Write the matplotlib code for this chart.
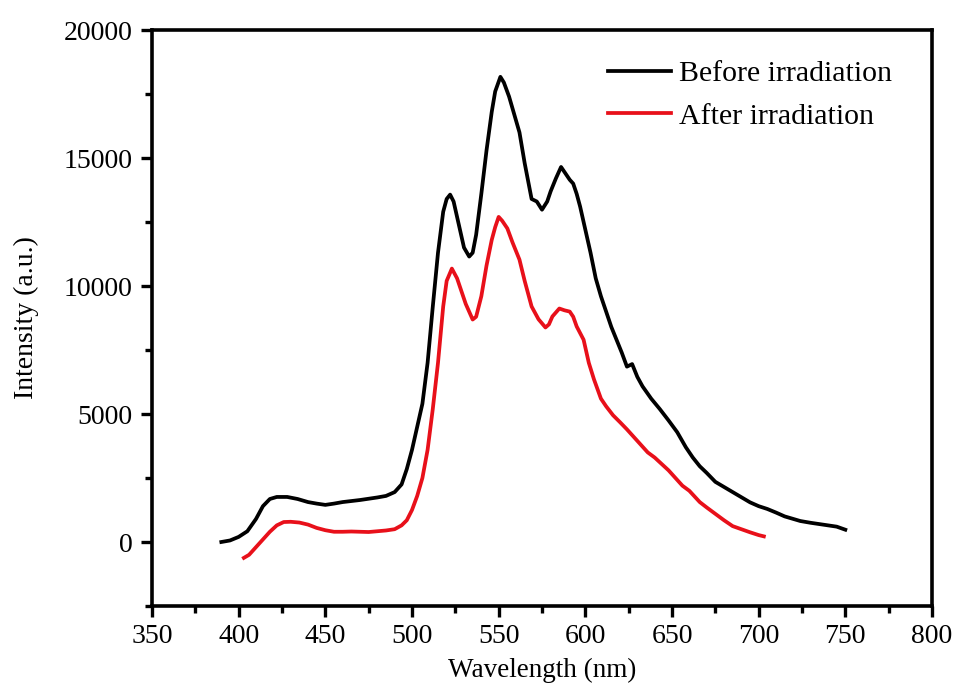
import matplotlib
matplotlib.use("Agg")
import matplotlib.pyplot as plt
from matplotlib.ticker import MultipleLocator

plt.rcParams['font.family'] = ['Liberation Serif', 'DejaVu Serif']

before_x = [390, 395, 400, 405, 410, 414, 418, 422, 428, 434, 440, 445, 450, 455, 460, 465,
            470, 475, 480, 485, 490, 494, 497, 500, 503, 506, 509, 512, 515, 518, 520, 522,
            524, 526, 528, 530, 533, 535, 537, 540, 543, 546, 548, 551, 553, 556, 559, 562,
            565, 569, 572, 575, 578, 580, 583, 586, 588, 591, 593, 595, 597, 600, 603, 606,
            609, 612, 615, 618, 621, 624, 627, 630, 633, 638, 643, 648, 653, 658, 662, 666,
            670, 675, 680, 685, 690, 695, 700, 705, 710, 715, 720, 724, 730, 735, 740, 745, 750]
before_y = [0, 60, 200, 420, 900, 1400, 1680, 1760, 1760, 1680, 1560, 1500, 1450, 1500, 1560, 1600,
            1640, 1690, 1740, 1800, 1950, 2250, 2850, 3600, 4500, 5400, 7000, 9200, 11300, 12900, 13400, 13570,
            13300, 12700, 12100, 11500, 11150, 11300, 12000, 13600, 15300, 16800, 17600, 18170, 17950, 17400, 16700, 16000,
            14800, 13400, 13300, 12980, 13300, 13700, 14200, 14650, 14450, 14150, 14000, 13600, 13100, 12200, 11300, 10300,
            9600, 9000, 8400, 7900, 7400, 6850, 6950, 6450, 6080, 5600, 5190, 4750, 4290, 3700, 3300, 2960,
            2700, 2350, 2150, 1950, 1750, 1550, 1400, 1290, 1150, 1000, 900, 820, 750, 700, 650, 600, 480]

after_x = [403, 406, 410, 414, 418, 422, 426, 430, 435, 440, 445, 450, 455, 460, 465, 470,
           475, 480, 485, 490, 494, 497, 500, 503, 506, 509, 512, 515, 518, 520, 523, 526,
           528, 531, 535, 537, 540, 543, 546, 548, 550, 552, 555, 558, 562, 565, 569, 573,
           577, 579, 581, 585, 588, 591, 593, 595, 599, 602, 605, 609, 612, 616, 620, 624,
           628, 632, 636, 640, 644, 648, 652, 656, 660, 666, 670, 675, 680, 685, 690, 695, 700, 703]
after_y = [-620, -500, -200, 100, 400, 650, 780, 790, 760, 680, 550, 460, 400, 400, 410, 400,
           390, 420, 450, 500, 650, 850, 1250, 1800, 2500, 3600, 5200, 7000, 9200, 10200, 10680, 10300,
           9900, 9300, 8690, 8800, 9600, 10800, 11800, 12300, 12700, 12550, 12250, 11700, 11030, 10200, 9200, 8700,
           8380, 8500, 8810, 9120, 9050, 9000, 8800, 8420, 7900, 7000, 6350, 5600, 5300, 4950, 4680, 4400,
           4100, 3800, 3500, 3300, 3050, 2800, 2500, 2200, 2000, 1560, 1350, 1100, 850, 620, 500, 380, 270, 220]

labels = ['Before irradiation', 'After irradiation']
x_ticks = [350, 400, 450, 500, 550, 600, 650, 700, 750, 800]
y_ticks = [0, 5000, 10000, 15000, 20000]

fig = plt.figure(figsize=(9.58, 6.91), dpi=100)
ax = fig.add_axes([152/958, 85/691, 780/958, 576/691])

ax.plot(before_x, before_y, color='black', lw=2.7, label=labels[0])
ax.plot(after_x, after_y, color='#e8101a', lw=2.7, label=labels[1])

ax.set_xlim(350, 800)
ax.set_ylim(-2500, 20000)
ax.set_xticks(x_ticks)
ax.set_yticks(y_ticks)
ax.xaxis.set_minor_locator(MultipleLocator(25))
ax.yaxis.set_minor_locator(MultipleLocator(2500))
ax.tick_params(which='major', direction='out', length=8, width=2.4, labelsize=20)
ax.tick_params(axis='y', which='major', pad=6)
ax.tick_params(axis='x', which='major', pad=5)
ax.tick_params(which='minor', direction='out', length=5, width=2.4)
ax.tick_params(top=False, right=False)
for s in ax.spines.values():
    s.set_linewidth(2.6)

ax.set_xlabel('Wavelength (nm)', fontsize=19.5)
ax.set_ylabel('Intensity (a.u.)', fontsize=20)
ax.xaxis.set_label_coords(0.5, -0.09)
ax.yaxis.set_label_coords(-0.145, 0.5)

ax.legend(loc='upper left', bbox_to_anchor=(0.585, 0.947), frameon=False, fontsize=21.5,
          handlelength=2.1, handletextpad=0.28, labelspacing=0.52, borderpad=0, borderaxespad=0)

fig.savefig('out.png', dpi=100)
